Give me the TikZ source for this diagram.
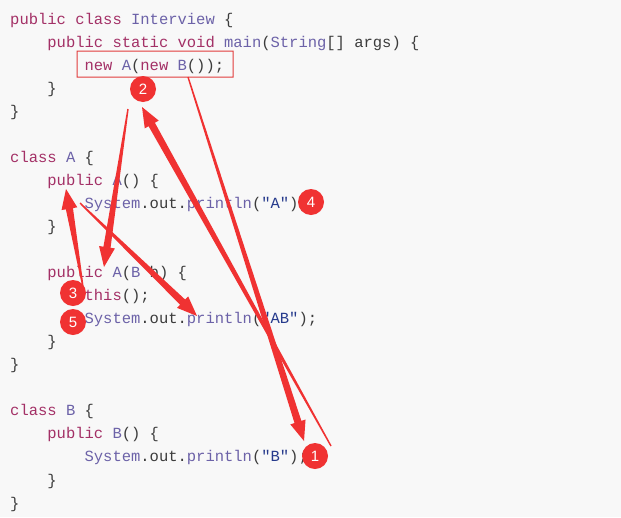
\documentclass[tikz,border=0pt]{standalone}
\usepackage{fontspec}
\usetikzlibrary{calc}
\newfontfamily\codefont{Liberation Mono}
\newfontfamily\numfont{Liberation Sans}
\definecolor{kwc}{RGB}{163,48,102}
\definecolor{idc}{RGB}{108,98,168}
\definecolor{strc}{RGB}{38,58,140}
\definecolor{txtc}{RGB}{60,60,60}
\definecolor{bgc}{RGB}{248,248,248}
\definecolor{annot}{RGB}{240,50,50}
\definecolor{boxc}{RGB}{225,60,60}
\newcommand{\kw}[1]{\textcolor{kwc}{#1}}
\newcommand{\idn}[1]{\textcolor{idc}{#1}}
\newcommand{\str}[1]{\textcolor{strc}{#1}}
\newcommand{\taperarrow}[2]{%
  \path ($(#2)!20pt!(#1)$) coordinate (hb);
  \fill[annot] ($(#1)!0.7pt!90:(#2)$) -- ($(hb)!3.6pt!90:(#2)$) -- ($(hb)!8pt!90:(#2)$) -- (#2)
    -- ($(hb)!8pt!-90:(#2)$) -- ($(hb)!3.6pt!-90:(#2)$) -- ($(#1)!0.7pt!-90:(#2)$) -- cycle;}
\tikzset{
  code/.style={anchor=base west, inner sep=0pt, text=txtc, font=\codefont\fontsize{15.5}{18}\selectfont},
  num/.style={circle, fill=annot, minimum size=26pt, inner sep=0pt, text=white, font=\numfont\fontsize{15}{15}\selectfont},
  hilite/.style={fill=boxc, even odd rule}
}
\begin{document}
\begin{tikzpicture}[x=1pt,y=-1pt]
\fill[bgc] (0,0) rectangle (621,517);
\useasboundingbox (0,0) rectangle (621,517);
% highlight box, as a thin filled frame
\coordinate (bx1) at (77,51);
\coordinate (bx2) at (233,77);
\fill[hilite] ($(bx1)+(-0.5,-0.5)$) rectangle ($(bx2)+(0.5,0.5)$)
              ($(bx1)+(0.5,0.5)$) rectangle ($(bx2)+(-0.5,-0.5)$);
\coordinate (boxb) at (188,77);
% code
\node[code] (l0) at (10,24) {\kw{public} \kw{class} \idn{Interview} \{};
\node[code] (l1) at (47.2,47.05) {\kw{public} \kw{static} \kw{void} \idn{main}(\idn{String}[] args) \{};
\node[code] (l2) at (84.4,70.1) {\kw{new} \idn{A}(\kw{new} \idn{B}());};
\node[code] (l3) at (47.2,93.15) {\}};
\node[code] (l4) at (10,116.2) {\}};
\node[code] (l6) at (10,162.3) {\kw{class} \idn{A} \{};
\node[code] (l7) at (47.2,185.35) {\kw{public} \idn{A}() \{};
\node[code] (l8) at (84.4,208.4) {\idn{System}.out.\idn{println}(\str{"A"});};
\node[code] (l9) at (47.2,231.45) {\}};
\node[code] (l11) at (47.2,277.55) {\kw{public} \idn{A}(\idn{B} b) \{};
\node[code] (l12) at (84.4,300.6) {\kw{this}();};
\node[code] (l13) at (84.4,323.65) {\idn{System}.out.\idn{println}(\str{"AB"});};
\node[code] (l14) at (47.2,346.7) {\}};
\node[code] (l15) at (10,369.75) {\}};
\node[code] (l17) at (10,415.85) {\kw{class} \idn{B} \{};
\node[code] (l18) at (47.2,438.9) {\kw{public} \idn{B}() \{};
\node[code] (l19) at (84.4,461.95) {\idn{System}.out.\idn{println}(\str{"B"});};
\node[code] (l20) at (47.2,485) {\}};
\node[code] (l21) at (10,508.05) {\}};
% arrow end points
\coordinate (tA) at (304,441);
\coordinate (sB) at (331,446);
\coordinate (tB) at (142,107);
\coordinate (sC) at (128,109);
\coordinate (tC) at (104,267);
\coordinate (sD) at (83,287);
\coordinate (tD) at (66,189);
\coordinate (sE) at (80,203);
\coordinate (tE) at (197,316);
\taperarrow{boxb}{tA}
\taperarrow{sB}{tB}
\taperarrow{sC}{tC}
\taperarrow{sD}{tD}
\taperarrow{sE}{tE}
% numbered circles
\node[num] (n1) at (315,456) {1};
\node[num] (n2) at (143,89) {2};
\node[num] (n3) at (73,293) {3};
\node[num] (n4) at (311,202) {4};
\node[num] (n5) at (73,322) {5};
\end{tikzpicture}
\end{document}
